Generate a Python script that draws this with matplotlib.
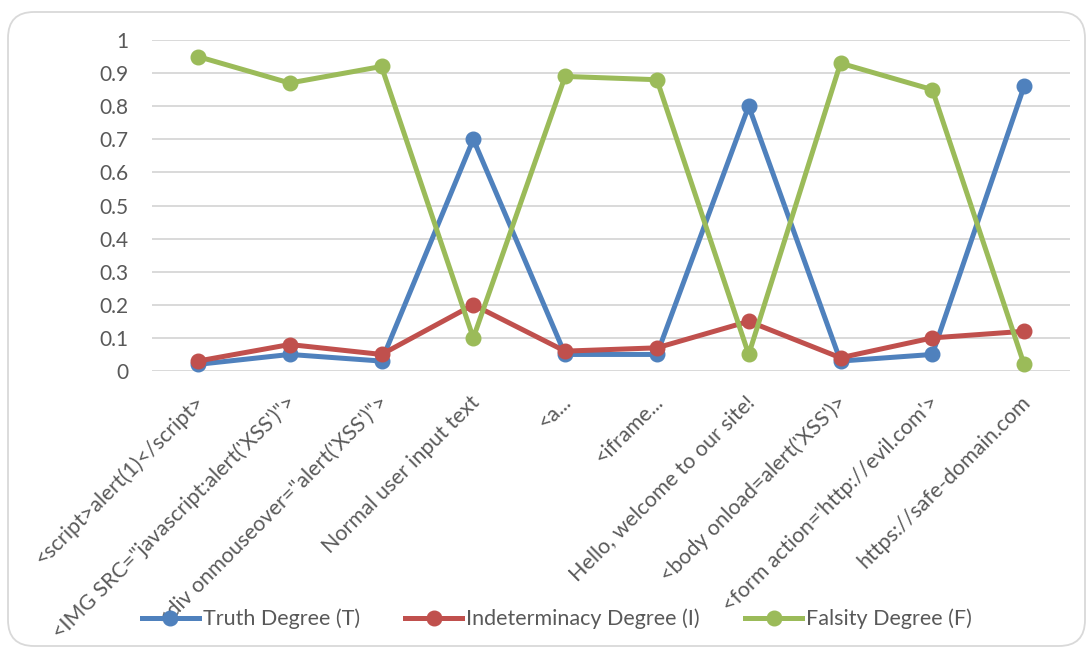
import matplotlib
matplotlib.use("Agg")
import matplotlib.pyplot as plt
from matplotlib.patches import FancyBboxPatch
from matplotlib.transforms import IdentityTransform, ScaledTranslation

plt.rcParams['font.family'] = ['Lato', 'DejaVu Sans']

categories = [
    "<script>alert(1)</script>",
    "<IMG SRC=\"javascript:alert('XSS')\">",
    "<div onmouseover=\"alert('XSS')\">",
    "Normal user input text",
    "<a...",
    "<iframe...",
    "Hello, welcome to our site!",
    "<body onload=alert('XSS')>",
    "<form action='http://evil.com'>",
    "https://safe-domain.com",
]
truth = [0.02, 0.05, 0.03, 0.70, 0.05, 0.05, 0.80, 0.03, 0.05, 0.86]
indeterminacy = [0.03, 0.08, 0.05, 0.20, 0.06, 0.07, 0.15, 0.04, 0.10, 0.12]
falsity = [0.95, 0.87, 0.92, 0.10, 0.89, 0.88, 0.05, 0.93, 0.85, 0.02]
series_names = ["Truth Degree (T)", "Indeterminacy Degree (I)", "Falsity Degree (F)"]
colors = ["#4F81BD", "#C0504D", "#9BBB59"]
yticks = [0, 0.1, 0.2, 0.3, 0.4, 0.5, 0.6, 0.7, 0.8, 0.9, 1]

W, H = 1091, 648
TEXT = "#595959"
fig = plt.figure(figsize=(W / 100, H / 100), dpi=100)

# chart-area frame with rounded corners (pixel coordinates)
frame = FancyBboxPatch((8, 2), 1077, 634,
                       boxstyle="round,pad=0,rounding_size=26",
                       transform=IdentityTransform(), facecolor="white",
                       edgecolor="#D9D9D9", linewidth=1.3, zorder=-5)
fig.add_artist(frame)

ax = fig.add_axes([152 / W, 1 - 371 / H, (1070 - 152) / W, (371 - 40) / H])
ax.set_facecolor("none")

x = list(range(len(categories)))
handles = []
for vals, name, col in zip([truth, indeterminacy, falsity], series_names, colors):
    h, = ax.plot(x, vals, color=col, linewidth=3.6, marker="o", markersize=10.5,
                 label=name, clip_on=False, zorder=3, solid_joinstyle="round")
    handles.append(h)

ax.set_xlim(-0.5, len(categories) - 0.5)
ax.set_ylim(0, 1)
ax.set_yticks(yticks)
ax.set_yticklabels([f"{v:g}" for v in yticks])
ax.grid(axis="y", color="#D9D9D9", linewidth=1.4, zorder=0)
ax.set_axisbelow(True)
for s in ax.spines.values():
    s.set_visible(False)
ax.tick_params(axis="y", length=0, pad=17, labelsize=15, labelcolor=TEXT)
ax.tick_params(axis="x", length=0, pad=15, labelsize=15.4, labelcolor=TEXT)
ax.set_xticks(x)
ax.set_xticklabels(categories, rotation=45, ha="right", va="top",
                   rotation_mode="anchor")
shift = ScaledTranslation(-4 / 100, 0, fig.dpi_scale_trans)
for lbl in ax.get_xticklabels():
    lbl.set_transform(lbl.get_transform() + shift)

leg = fig.legend(handles=handles, loc="center", bbox_to_anchor=(557 / W, 1 - 619 / H),
                 ncol=3, frameon=False, fontsize=15.5, labelcolor=TEXT,
                 handlelength=2.65, handletextpad=0.19, columnspacing=2.1)
leg.set_zorder(10)

fig.savefig("out.png", dpi=100)
